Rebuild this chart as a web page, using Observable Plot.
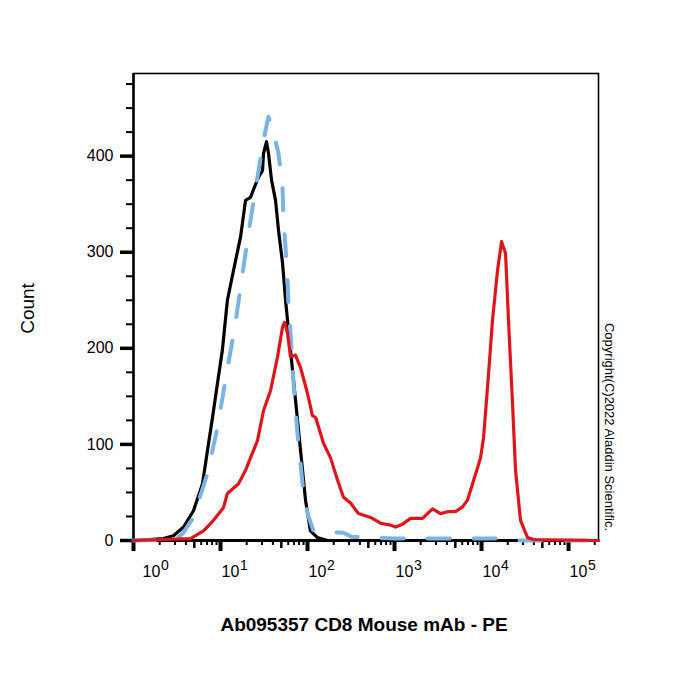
<!DOCTYPE html>
<html>
<head>
<meta charset="utf-8">
<script src="https://cdn.jsdelivr.net/npm/d3@7"></script>
<script src="https://cdn.jsdelivr.net/npm/@observablehq/plot@0.6"></script>
<style>
  html, body { margin: 0; padding: 0; background: #fff; }
</style>
</head>
<body>
<div id="chart"></div>
<script>
// ---- Data ----
const decades = [1, 10, 100, 1000, 10000, 100000];
const exponents = ["0", "1", "2", "3", "4", "5"];
const yMajor = [0, 100, 200, 300, 400];
const yMinor = [25, 50, 75, 125, 150, 175, 225, 250, 275, 325, 350, 375, 425, 450, 475];
const minorMultipliers = [2, 3, 4, 6, 7, 8, 9];
const midMultipliers = [5];

// Unstained / isotype (black, solid)
const blackX = [1, 2.21, 2.88, 3.76, 4.89, 6.21, 7.09, 8.09, 9.24, 10.5, 12.0, 14.1, 17.0, 19.4, 22.1, 23.9, 27.3, 30.4, 31.2, 33.8, 35.6, 38.6, 42.9, 46.4, 51.6, 55.9, 63.8, 72.8, 83.1, 94.9, 108, 130, 170, 220000];
const blackY = [0, 2, 5, 14, 31, 59, 94, 128, 164, 198, 250, 281, 316, 354, 357, 365, 378, 385, 403, 415, 403, 375, 354, 323, 289, 250, 198, 146, 94, 42, 10, 3, 0, 0];

// Isotype control (light blue, dashed)
const blueX = [1, 3.04, 3.66, 4.89, 7.09, 9.24, 11.4, 14.9, 17.9, 22.1, 26.6, 31.2, 35.6, 40.7, 46.4, 51.6, 53.0, 55.9, 58.9, 60.5, 63.8, 69.0, 76.7, 87.7, 100, 117, 153, 259, 320, 500, 1000, 16000, 25000, 220000];
const blueY = [0, 1, 7, 24, 70, 118, 167, 227, 278, 333, 378, 417, 441, 424, 403, 368, 333, 305, 271, 243, 216, 164, 111, 59, 28, 10, 9, 8, 4, 3, 2, 2, 0, 0];

// CD8-PE stained (red)
const redX = [1, 4.52, 6.38, 8.31, 10.8, 12.0, 16.1, 19.4, 22.1, 26.6, 31.2, 37.6, 45.2, 51.6, 54.4, 58.9, 63.8, 72.8, 83.1, 100, 114, 124, 153, 184, 221, 259, 312, 385, 530, 690, 900, 1026, 1236, 1530, 2100, 2735, 3380, 4065, 5020, 6050, 6900, 7890, 9750, 10550, 11720, 13370, 15270, 16980, 18880, 20420, 22700, 24600, 28060, 33800, 39600, 220000];
const redY = [0, 2, 10, 21, 34, 49, 59, 73, 86, 104, 135, 156, 191, 222, 227, 216, 191, 193, 180, 153, 130, 128, 101, 86, 63, 45, 39, 28, 24, 18, 16, 14, 17, 23, 23, 33, 28, 30, 30, 35, 42, 59, 86, 107, 159, 229, 281, 311, 299, 229, 143, 73, 21, 3, 1, 0];

const xTitle = "Ab095357 CD8 Mouse mAb - PE";
const yTitle = "Count";
const copyright = "Copyright(C)2022 Aladdin Scientific.";

// ---- Build tables ----
const toRows = (xs, ys) => xs.map((x, i) => ({x, y: ys[i]}));
const black = toRows(blackX, blackY);
const blue = toRows(blueX, blueY);
const red = toRows(redX, redY);
const xMax = 221000;
const minorTicks = decades.flatMap(d => minorMultipliers.map(m => d * m)).filter(v => v <= xMax);
const midTicks = decades.flatMap(d => midMultipliers.map(m => d * m)).filter(v => v <= xMax);
const decadeRows = decades.map((d, i) => ({d, e: exponents[i]}));

const chart = Plot.plot({
  width: 700,
  height: 700,
  marginLeft: 133,
  marginRight: 102,
  marginTop: 73,
  marginBottom: 160,
  x: {type: "log", domain: [1, xMax]},
  y: {domain: [0, 486]},
  style: {fontFamily: "'Liberation Sans', Arial, sans-serif", fontSize: "16px", background: "white", color: "black"},
  marks: [
    Plot.frame({stroke: "black", strokeWidth: 1.6}),
    Plot.axisY(yMajor, {tickSize: 13, tickPadding: 7, strokeWidth: 3.5, fontSize: 16, label: null}),
    Plot.axisY(yMinor, {tickSize: 7, strokeWidth: 2, tickFormat: () => "", label: null}),
    Plot.axisX(decades, {tickSize: 11, strokeWidth: 4, tickFormat: () => "", label: null}),
    Plot.axisX(midTicks, {tickSize: 8, strokeWidth: 2.5, tickFormat: () => "", label: null}),
    Plot.axisX(minorTicks, {tickSize: 5, strokeWidth: 2, tickFormat: () => "", label: null}),
    Plot.ruleX([1], {stroke: "black", strokeWidth: 2.5}),
    Plot.ruleY([0], {stroke: "black", strokeWidth: 3}),
    // histograms
    Plot.line(black, {x: "x", y: "y", stroke: "#000000", strokeWidth: 3.2, strokeLinejoin: "round"}),
    Plot.line(blue, {x: "x", y: "y", stroke: "#7ab4e6", strokeWidth: 4, strokeDasharray: "22,24", strokeLinejoin: "round"}),
    Plot.line(red, {x: "x", y: "y", stroke: "#e0141b", strokeWidth: 3.2, strokeLinejoin: "round"}),
    // x tick labels 10^n
    Plot.text(decadeRows.slice(0, 1), {x: "d", frameAnchor: "bottom", text: () => "10", textAnchor: "start", dx: 9, dy: 36, fontSize: 16}),
    Plot.text(decadeRows.slice(0, 1), {x: "d", frameAnchor: "bottom", text: "e", textAnchor: "start", dx: 27.5, dy: 29.5, fontSize: 14}),
    Plot.text(decadeRows.slice(1), {x: "d", frameAnchor: "bottom", text: () => "10", textAnchor: "start", dx: 1, dy: 36, fontSize: 16}),
    Plot.text(decadeRows.slice(1), {x: "d", frameAnchor: "bottom", text: "e", textAnchor: "start", dx: 19.5, dy: 29.5, fontSize: 14}),
    // titles
    Plot.text([yTitle], {frameAnchor: "left", textAnchor: "middle", rotate: -90, dx: -106, dy: 1.5, fontSize: 19}),
    Plot.text([xTitle], {frameAnchor: "bottom", textAnchor: "middle", dx: -2, dy: 90, fontSize: 19, fontWeight: "bold"}),
    Plot.text([copyright], {frameAnchor: "right", textAnchor: "middle", rotate: 90, dx: 11, dy: 120, fontSize: 13})
  ]
});
document.getElementById("chart").appendChild(chart);
</script>
</body>
</html>
